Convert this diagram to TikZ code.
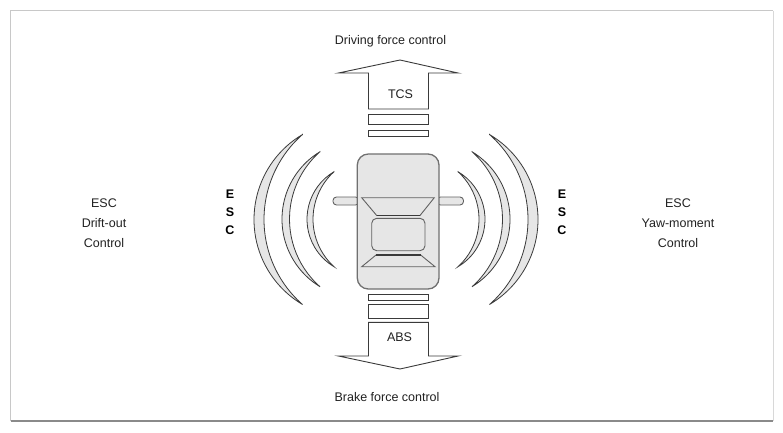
\documentclass[tikz,border=0pt]{standalone}
\usepackage{fontspec}
\setmainfont{Liberation Sans}
\definecolor{shfill}{HTML}{E6E6E6}
\definecolor{shline}{HTML}{3A3A3A}
\definecolor{carline}{HTML}{707070}
\definecolor{txtcol}{HTML}{222222}
\definecolor{frlight}{HTML}{C8C8C8}
\definecolor{frdark}{HTML}{8A8A8A}
\newcommand\myLcres[5]{%
  \pgfmathsetmacro\crRo{(#3*#3+#4*#4)/(2*#4)}%
  \pgfmathsetmacro\crTo{asin(#3/\crRo)}%
  \pgfmathsetmacro\crRi{(#3*#3+#5*#5)/(2*#5)}%
  \pgfmathsetmacro\crTi{asin(#3/\crRi)}%
  \draw[cres] (#1,#2-#3) arc[start angle=180+\crTo, end angle=180-\crTo, radius=\crRo]
     arc[start angle=180-\crTi, end angle=180+\crTi, radius=\crRi] -- cycle;}
\newcommand\myRcres[5]{%
  \pgfmathsetmacro\crRo{(#3*#3+#4*#4)/(2*#4)}%
  \pgfmathsetmacro\crTo{asin(#3/\crRo)}%
  \pgfmathsetmacro\crRi{(#3*#3+#5*#5)/(2*#5)}%
  \pgfmathsetmacro\crTi{asin(#3/\crRi)}%
  \draw[cres] (#1,#2-#3) arc[start angle=-\crTo, end angle=\crTo, radius=\crRo]
     arc[start angle=\crTi, end angle=-\crTi, radius=\crRi] -- cycle;}
\begin{document}
\begin{tikzpicture}[x=1pt,y=-1pt,
  cres/.style={draw=shline, fill=shfill, line width=0.8pt, line join=miter},
  arrowshape/.style={draw=shline, fill=white, line width=0.9pt, line join=miter},
  barbox/.style={draw=shline, fill=white, line width=0.9pt},
  carbody/.style={draw=carline, fill=shfill, line width=1.3pt},
  carpart/.style={draw=shline!80, fill=shfill, line width=0.9pt, line join=miter},
  lbl/.style={font=\fontsize{12.5}{14}\selectfont, text=txtcol, inner sep=0pt},
  esc/.style={font=\fontsize{12.5}{14}\selectfont\bfseries, text=black, inner sep=0pt}]
\useasboundingbox (0,0) rectangle (783,432);
\fill[white] (0,0) rectangle (783,432);
% frame
\draw[frlight, line width=1.4pt] (10.5,421) -- (10.5,10.5) -- (773,10.5);
\draw[frlight!70, line width=0.8pt] (773,10.5) -- (773,421);
\draw[frdark, line width=1.4pt] (10.5,421) -- (773,421);
% up arrow (TCS)
\draw[arrowshape] (400,60) -- (458,73) -- (428.5,73) -- (428.5,109) -- (368.5,109) -- (368.5,73) -- (338.5,73) -- cycle;
\draw[barbox] (368.5,114.5) rectangle (428.5,124.5);
\draw[barbox] (368.5,130) rectangle (428.5,136.7);
% down arrow (ABS)
\draw[barbox] (368.5,294) rectangle (428.5,300.7);
\draw[barbox] (368.5,304) rectangle (428.5,318.3);
\draw[arrowshape] (368.5,322.3) -- (428.5,322.3) -- (428.5,356) -- (458,356) -- (400,369) -- (338.5,356) -- (368.5,356) -- cycle;
% crescents left
\myLcres{302.5}{219.5}{85}{48.5}{38.5}
\myLcres{320}{219.2}{67.5}{38}{30.5}
\myLcres{334}{219.2}{47.5}{27}{21}
% crescents right
\myRcres{489.5}{219.5}{85}{48.5}{38.5}
\myRcres{472}{219.2}{67.5}{38}{30.5}
\myRcres{458}{219.2}{47.5}{27}{21}
% mirrors
\draw[carpart, rounded corners=3.5pt] (333,197) rectangle (359,205);
\draw[carpart, rounded corners=3.5pt] (437,197) rectangle (463.5,205);
% car body
\draw[carbody, rounded corners=11pt] (357.3,154) rectangle (439,289);
% windshield
\draw[carpart] (361.7,197.7) -- (434.3,197.7) -- (420,215.5) -- (376.7,215.5) -- cycle;
\draw[shline, line width=1.6pt] (376.7,215.5) -- (420,215.5);
% roof
\draw[carpart, rounded corners=5pt] (371.7,218.3) rectangle (425,250.7);
% rear window
\draw[carpart] (376,255) -- (420.7,255) -- (435,266.7) -- (361.7,266.7) -- cycle;
\draw[shline, line width=1.6pt] (376,255) -- (420.7,255);
% labels
\node[lbl] (drive) at (390.5,41.7) {Driving force control};
\node[lbl] (tcs) at (400.5,93.7) {TCS};
\node[lbl] (abs) at (399.5,336.7) {ABS};
\node[lbl] (brake) at (387,396.7) {Brake force control};
\node[lbl, align=center, text width=80pt, execute at begin node=\setlength{\baselineskip}{20pt}] (left) at (104,223.5) {ESC\\Drift-out\\Control};
\node[lbl, align=center, text width=90pt, execute at begin node=\setlength{\baselineskip}{20pt}] (right) at (678,223.5) {ESC\\Yaw-moment\\Control};
\node[esc] (e1) at (230,194) {E};
\node[esc] (s1) at (230,211.8) {S};
\node[esc] (c1) at (230,229.8) {C};
\node[esc] (e2) at (562,194) {E};
\node[esc] (s2) at (562,211.8) {S};
\node[esc] (c2) at (562,229.8) {C};
\end{tikzpicture}
\end{document}
